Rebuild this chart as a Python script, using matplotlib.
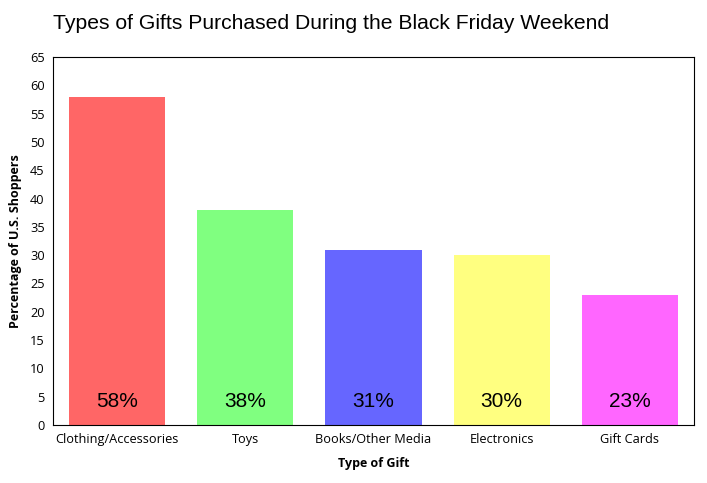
import matplotlib
matplotlib.use('Agg')
import matplotlib.pyplot as plt

categories = ['Clothing/Accessories', 'Toys', 'Books/Other Media', 'Electronics', 'Gift Cards']
values = [58, 38, 31, 30, 23]
colors = ['#FF6666', '#80FF80', '#6666FF', '#FFFF80', '#FF66FF']

fig = plt.figure(figsize=(7.07, 4.83), dpi=100)
ax = fig.add_axes([0.075, 0.12, 0.9066, 0.762])

x = range(len(categories))
ax.bar(x, values, width=0.75, color=colors)
for i, v in enumerate(values):
    ax.text(i, 4.2, f'{v}%', ha='center', va='center', fontsize=15,
            family='Liberation Sans')

ax.set_xlim(-0.5, len(categories) - 0.5)
ax.set_ylim(0, 65)
ax.set_yticks(range(0, 66, 5))
ax.set_xticks(list(x))
ax.set_xticklabels(categories)
ax.tick_params(length=0, labelsize=9.2, pad=6)
for lbl in ax.get_xticklabels() + ax.get_yticklabels():
    lbl.set_family('Open Sans')

ax.set_xlabel('Type of Gift', family='Open Sans', fontweight='bold', fontsize=9, labelpad=8)
ax.set_ylabel('Percentage of U.S. Shoppers', family='Open Sans', fontweight='bold', fontsize=9, labelpad=6)

fig.text(0.075, 0.952, 'Types of Gifts Purchased During the Black Friday Weekend',
         family='Liberation Sans', fontsize=15.2, va='center', ha='left')

fig.savefig('out.png', dpi=100)
